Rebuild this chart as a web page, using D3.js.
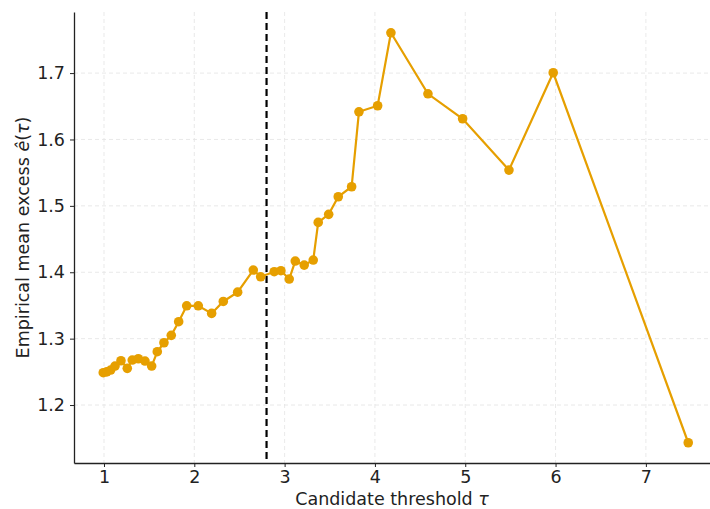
<!DOCTYPE html>
<html>
<head>
<meta charset="utf-8">
<script src="https://cdn.jsdelivr.net/npm/d3@7"></script>
<style>
  body { margin: 0; background: #fff; }
  svg { font-family: "DejaVu Sans", sans-serif; }
</style>
</head>
<body>
<svg id="chart" width="710" height="509"></svg>
<script>
// Umbrales candidatos y exceso medio empírico
const thresholds = [0.992, 1.030, 1.074, 1.122, 1.188, 1.258, 1.313, 1.380, 1.454, 1.528,
                    1.590, 1.664, 1.745, 1.827, 1.916, 2.044, 2.192, 2.321, 2.480, 2.653,
                    2.735, 2.885, 2.959, 3.051, 3.118, 3.217, 3.317, 3.372, 3.488, 3.594,
                    3.742, 3.823, 4.030, 4.177, 4.587, 4.971, 5.484, 5.974, 7.469];
const meanExcess = [1.2487, 1.2500, 1.2527, 1.2587, 1.2667, 1.2553, 1.2678, 1.2697, 1.2663, 1.2587,
                    1.2803, 1.2938, 1.3050, 1.3255, 1.3495, 1.3495, 1.3380, 1.3560, 1.3700, 1.4033,
                    1.3932, 1.4008, 1.4023, 1.3898, 1.4169, 1.4108, 1.4184, 1.4751, 1.4872, 1.5137,
                    1.5288, 1.6417, 1.6508, 1.7607, 1.6688, 1.6312, 1.5539, 1.7005, 1.1432];
const selectedThreshold = 2.80;
const xTicks = [1, 2, 3, 4, 5, 6, 7];
const yTicks = [1.2, 1.3, 1.4, 1.5, 1.6, 1.7];

const margin = { top: 12, right: 0, bottom: 46, left: 74 };
const width = 710, height = 509;

const svg = d3.select('#chart');

const x = d3.scaleLinear().domain([0.668, 7.71]).range([margin.left, width - margin.right]);
const y = d3.scaleLinear().domain([1.1127, 1.792]).range([height - margin.bottom, margin.top]);

// Rejilla
const grid = svg.append('g');
grid.selectAll('.vgrid').data(xTicks).enter().append('line')
    .attr('x1', d => x(d)).attr('x2', d => x(d))
    .attr('y1', margin.top).attr('y2', height - margin.bottom)
    .attr('stroke', '#e3e3e3').attr('stroke-width', 0.8).attr('stroke-dasharray', '4,3');
grid.selectAll('.hgrid').data(yTicks).enter().append('line')
    .attr('x1', margin.left).attr('x2', width - margin.right)
    .attr('y1', d => y(d)).attr('y2', d => y(d))
    .attr('stroke', '#e3e3e3').attr('stroke-width', 0.8).attr('stroke-dasharray', '4,3');

// Ejes
const xAxis = svg.append('g')
    .attr('transform', `translate(0,${height - margin.bottom})`)
    .call(d3.axisBottom(x).tickValues(xTicks).tickFormat(d3.format('d')).tickSize(4).tickPadding(4).tickSizeOuter(0));
const yAxis = svg.append('g')
    .attr('transform', `translate(${margin.left},0)`)
    .call(d3.axisLeft(y).tickValues(yTicks).tickFormat(d3.format('.1f')).tickSize(4).tickPadding(5).tickSizeOuter(0));

[xAxis, yAxis].forEach(ax => {
    ax.select('.domain').attr('stroke', '#222').attr('stroke-width', 1.3);
    ax.selectAll('.tick line').attr('stroke', '#222');
    ax.selectAll('.tick text').attr('font-size', '17.5px').attr('fill', '#222')
      .attr('font-family', '"DejaVu Sans", sans-serif');
});

// Línea vertical del umbral elegido
svg.append('line')
    .attr('x1', x(selectedThreshold)).attr('x2', x(selectedThreshold))
    .attr('y1', margin.top).attr('y2', height - margin.bottom)
    .attr('stroke', '#000').attr('stroke-width', 2.2).attr('stroke-dasharray', '7,4');

// Serie
const pts = thresholds.map((t, i) => ({ t, e: meanExcess[i] }));
svg.append('path')
    .datum(pts)
    .attr('fill', 'none')
    .attr('stroke', '#E69F00')
    .attr('stroke-width', 2.2)
    .attr('d', d3.line().x(d => x(d.t)).y(d => y(d.e)));

svg.selectAll('.dot').data(pts).enter().append('circle')
    .attr('cx', d => x(d.t)).attr('cy', d => y(d.e)).attr('r', 4.8)
    .attr('fill', '#E69F00');

// Etiquetas de ejes
const xl = svg.append('text')
    .attr('x', (margin.left + width - margin.right) / 2).attr('y', 505)
    .attr('text-anchor', 'middle').attr('font-size', '17.5px').attr('fill', '#222');
xl.append('tspan').text('Candidate threshold ');
xl.append('tspan').attr('font-style', 'italic').text('τ');

const yl = svg.append('text')
    .attr('transform', `translate(29,${(margin.top + height - margin.bottom) / 2}) rotate(-90)`)
    .attr('text-anchor', 'middle').attr('font-size', '17.5px').attr('fill', '#222');
yl.append('tspan').text('Empirical mean excess ');
yl.append('tspan').attr('font-style', 'italic').text('ê');
yl.append('tspan').text('(');
yl.append('tspan').attr('font-style', 'italic').text('τ');
yl.append('tspan').text(')');
</script>
</body>
</html>
